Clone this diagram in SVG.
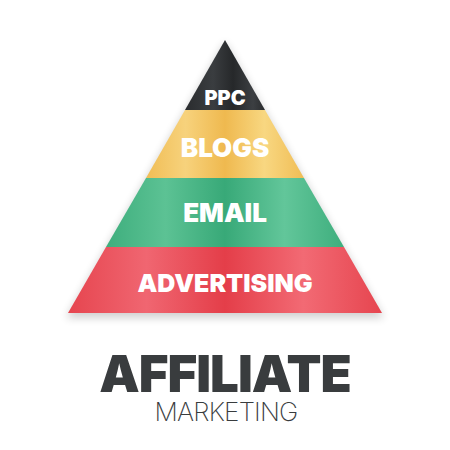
<svg xmlns="http://www.w3.org/2000/svg" width="450" height="450" viewBox="0 0 450 450">
<defs>
<linearGradient id="gDark" x1="0" x2="1" y1="0" y2="0">
<stop offset="0" stop-color="#2a2c2e"/><stop offset="0.35" stop-color="#3a3d40"/><stop offset="0.6" stop-color="#26282a"/><stop offset="0.85" stop-color="#3c3f42"/><stop offset="1" stop-color="#2a2c2e"/>
</linearGradient>
<linearGradient id="gYellow" x1="0" x2="1" y1="0" y2="0">
<stop offset="0" stop-color="#f0bd55"/><stop offset="0.25" stop-color="#f7d27c"/><stop offset="0.5" stop-color="#efb94f"/><stop offset="0.75" stop-color="#f8d781"/><stop offset="1" stop-color="#f0bd55"/>
</linearGradient>
<linearGradient id="gGreen" x1="0" x2="1" y1="0" y2="0">
<stop offset="0" stop-color="#3eae7d"/><stop offset="0.25" stop-color="#5cc294"/><stop offset="0.5" stop-color="#38a978"/><stop offset="0.75" stop-color="#62c69a"/><stop offset="1" stop-color="#3eae7d"/>
</linearGradient>
<linearGradient id="gRed" x1="0" x2="1" y1="0" y2="0">
<stop offset="0" stop-color="#e6454f"/><stop offset="0.25" stop-color="#f06671"/><stop offset="0.5" stop-color="#e43e49"/><stop offset="0.75" stop-color="#f26a74"/><stop offset="1" stop-color="#e6454f"/>
</linearGradient>
<filter id="shadow" x="-20%" y="-20%" width="140%" height="140%">
<feGaussianBlur stdDeviation="4"/>
</filter>
<style>
.lbl{font-family:Inter,"Noto Sans",sans-serif;font-weight:900;fill:#ffffff;text-anchor:middle}
.title{font-family:Inter,"Noto Sans",sans-serif;fill:#393c3e;text-anchor:middle}
</style>
</defs>
<polygon points="225,42 384,318 66,318" fill="#000" opacity="0.18" filter="url(#shadow)"/>
<g id="ppc">
<polygon points="225,40 265,110 185,110" fill="url(#gDark)"/>
<text class="lbl" x="225" y="104.5" font-size="20">PPC</text>
</g>
<g id="blogs">
<polygon points="185,110 265,110 304,178 146,178" fill="url(#gYellow)"/>
<text class="lbl" x="225" y="156.5" font-size="26">BLOGS</text>
</g>
<g id="email">
<polygon points="146,178 304,178 344,247 106,247" fill="url(#gGreen)"/>
<text class="lbl" x="225" y="221.5" font-size="26">EMAIL</text>
</g>
<g id="advertising">
<polygon points="106,247 344,247 382,313 68,313" fill="url(#gRed)"/>
<text class="lbl" x="225" y="292" font-size="25">ADVERTISING</text>
</g>
<g id="title">
<text class="title" x="225" y="392" font-size="51" font-weight="900" letter-spacing="-1">AFFILIATE</text>
<text class="title" x="226" y="421" font-size="26" font-weight="200" letter-spacing="-0.8">MARKETING</text>
</g>
</svg>
